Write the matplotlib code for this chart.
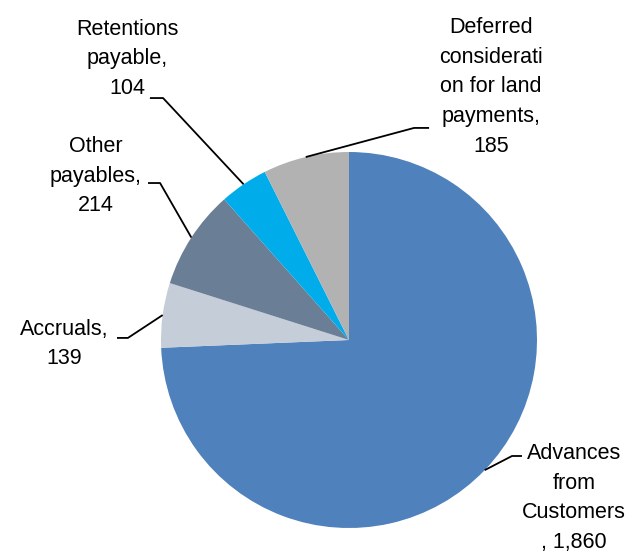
import numpy as np
import matplotlib
matplotlib.use("Agg")
import matplotlib.pyplot as plt

plt.rcParams["font.family"] = ["Liberation Sans", "DejaVu Sans"]

# trade and other payables breakdown
categories = ["Advances from Customers", "Accruals", "Other payables",
              "Retentions payable", "Deferred consideration for land payments"]
values = [1860, 139, 214, 104, 185]
colors = ["#4f81bd", "#c4cdd8", "#6a7e96", "#00adea", "#b2b2b2"]

# label text as wrapped in the chart, value filled in below
label_fmt = [
    "Advances\nfrom\nCustomers\n, {:,}",
    "Accruals,\n{:,}",
    "Other\npayables,\n{:,}",
    "Retentions\npayable,\n{:,}",
    "Deferred\nconsiderati\non for land\npayments,\n{:,}",
]

# label centre and elbow of the leader line, in axes data units (radius = 1)
label_xy = [(1.197, -0.84), (-1.516, -0.021), (-1.346, 0.872), (-1.181, 1.495), (0.755, 1.346)]
elbow_xy = [[(0.92, -0.617), (0.867, -0.617)],
            [(-1.234, 0.011), (-1.176, 0.011)],
            [(-1.069, 0.835), (-1.005, 0.835)],
            [(-1.059, 1.287), (-0.989, 1.287)],
            [(0.426, 1.128), (0.346, 1.128)]]

fig = plt.figure(figsize=(6.29, 5.52), dpi=100)
ax = fig.add_axes([161 / 629, 24 / 552, 376 / 629, 376 / 552])
wedges, _ = ax.pie(values, colors=colors, startangle=90, counterclock=False,
                   radius=1.0, wedgeprops=dict(linewidth=0))
ax.set_xlim(-1, 1)
ax.set_ylim(-1, 1)
ax.set_aspect("equal")
ax.axis("off")

for w, fmt, v, (tx, ty), elbow in zip(wedges, label_fmt, values, label_xy, elbow_xy):
    mid = np.deg2rad((w.theta1 + w.theta2) / 2)
    edge = (np.cos(mid), np.sin(mid))
    xs = [elbow[0][0], elbow[1][0], edge[0]]
    ys = [elbow[0][1], elbow[1][1], edge[1]]
    ax.plot(xs, ys, color="black", lw=1.3, clip_on=False, solid_capstyle="butt")
    ax.text(tx, ty, fmt.format(v), ha="center", va="center", fontsize=15.5,
            linespacing=1.55, color="black", clip_on=False)

fig.savefig("out.png", dpi=100)
